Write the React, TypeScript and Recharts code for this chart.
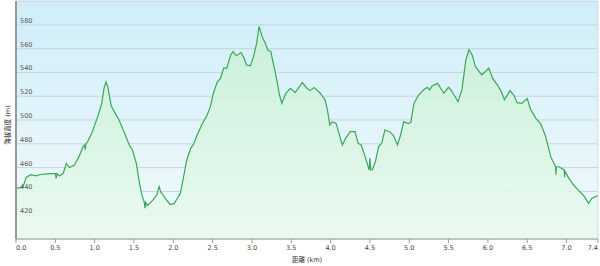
import { AreaChart, Area, XAxis, YAxis, CartesianGrid, ReferenceLine } from 'recharts';

// distance along the route (km) and elevation (m)
const DIST = [
  0, 0.05, 0.09, 0.13, 0.19, 0.25, 0.3, 0.36, 0.44, 0.5, 0.51, 0.52, 0.55, 0.6, 0.64, 0.68, 0.74, 0.8, 0.85, 0.87,
  0.88, 0.89, 0.91, 0.97, 1.04, 1.09, 1.12, 1.145, 1.17, 1.21, 1.25, 1.31, 1.38, 1.44, 1.48, 1.53, 1.57, 1.6, 1.63,
  1.64, 1.65, 1.67, 1.74, 1.79, 1.82, 1.84, 1.86, 1.9, 1.96, 2.01, 2.05, 2.09, 2.13, 2.17, 2.22, 2.26, 2.3, 2.37,
  2.43, 2.47, 2.51, 2.56, 2.6, 2.64, 2.68, 2.73, 2.76, 2.8, 2.86, 2.9, 2.93, 2.98, 3.02, 3.06, 3.09, 3.13, 3.17, 3.2,
  3.24, 3.28, 3.32, 3.35, 3.38, 3.43, 3.49, 3.55, 3.64, 3.7, 3.74, 3.79, 3.87, 3.93, 3.96, 3.99, 4.02, 4.07, 4.1,
  4.15, 4.19, 4.25, 4.31, 4.35, 4.39, 4.44, 4.49, 4.5, 4.51, 4.53, 4.57, 4.61, 4.65, 4.69, 4.75, 4.8, 4.85, 4.89,
  4.93, 4.99, 5.02, 5.06, 5.12, 5.18, 5.23, 5.26, 5.29, 5.36, 5.4, 5.44, 5.5, 5.53, 5.57, 5.62, 5.67, 5.72, 5.76,
  5.8, 5.84, 5.92, 5.97, 6.01, 6.06, 6.12, 6.17, 6.21, 6.24, 6.28, 6.33, 6.37, 6.43, 6.5, 6.54, 6.61, 6.67, 6.73,
  6.8, 6.86, 6.865, 6.87, 6.9, 6.97, 6.975, 6.98, 7.03, 7.09, 7.15, 7.21, 7.23, 7.28, 7.32, 7.38, 7.4,
];
const ELEV = [
  443, 443, 444, 452, 454, 453, 454, 454.5, 455, 455, 451, 455, 453, 455, 463.5, 460, 462, 469, 477.5, 479,
  475, 480, 481.7, 490, 503, 514, 527, 532, 527, 512, 507, 500, 489, 479, 475, 463.5, 447, 437, 431,
  426, 431, 428, 432.6, 437, 444, 439.6, 438, 434, 429, 429.7, 434, 438.3, 452, 466, 476, 480, 487, 497,
  504, 511, 522.5, 532, 535, 543.6, 543.6, 554.7, 557.5, 554, 556.7, 552, 546.3, 545.5, 553.3, 564.6, 578.6, 570, 564.6, 559,
  557.5, 545, 532, 521, 514, 522.5, 526.7, 523, 531.5, 526.7, 524.7, 527.2, 522.5, 516.8, 508.4, 495.8, 498.6, 497.2, 490.2,
  479, 484.6, 490.2, 490.2, 480.4, 479, 469, 458, 468, 458, 458, 465, 477.5, 480.4, 491.6, 490.2, 487, 479, 487.4,
  498.6, 497, 498, 514, 521, 525.3, 527.5, 525.3, 528.6, 530.8, 526.7, 522.5, 527.5, 525.3, 521, 515.4, 525.3, 550.5, 559,
  554.7, 545, 538, 540.8, 543.6, 535, 529.5, 524, 517, 520, 524.7, 521, 514.6, 514, 518, 509.5, 501.4, 497, 487,
  469, 460.7, 454, 460.7, 460.7, 458, 452, 457, 451, 445.3, 441, 437, 435.4, 430, 434, 436, 436,
];

const X_TICKS = [0, 0.5, 1, 1.5, 2, 2.5, 3, 3.5, 4, 4.5, 5, 5.5, 6, 6.5, 7, 7.4];
const Y_TICKS = [400, 420, 440, 460, 480, 500, 520, 540, 560, 580, 600];

const data = DIST.map((d, i) => ({ d, elev: ELEV[i] }));

const FONT = '"DejaVu Sans", "Noto Sans CJK JP", sans-serif';

function XTick(props: any) {
  const { x, y, payload, index } = props;
  const last = index === X_TICKS.length - 1;
  const anchor = index === 0 ? 'start' : last ? 'end' : 'middle';
  return (
    <text x={x} y={y} dy={5} textAnchor={anchor} fontSize={6.5} fill="#444" fontFamily={FONT}>
      {payload.value.toFixed(1)}
    </text>
  );
}

function YTick(props: any) {
  const { x, y, payload } = props;
  if (payload.value === 400 || payload.value === 600) return <g />;
  return (
    <text x={x} y={y} dx={4} dy={-2} textAnchor="start" fontSize={6.5} fill="#555" fontFamily={FONT}>
      {payload.value}
    </text>
  );
}

function YTitle(props: any) {
  const { x, y, height } = props.viewBox;
  const cx = x + 10;
  const cy = y + height / 2 + 5;
  return (
    <text
      x={cx}
      y={cy}
      transform={`rotate(-90, ${cx}, ${cy})`}
      textAnchor="middle"
      fontSize={6.5}
      fill="#222"
      fontFamily={FONT}
    >
      海拔高度 (m)
    </text>
  );
}

export default function App() {
  return (
    <div style={{ width: 600, height: 266, background: '#fff' }}>
      <style>{'body{margin:0}'}</style>
      <AreaChart width={600} height={266} data={data} margin={{ top: 1, right: 2, left: 0, bottom: 0 }}>
        <defs>
          <linearGradient id="bgGrad" x1="0" y1="0" x2="0" y2="1">
            <stop offset="0%" stopColor="#cfedf9" />
            <stop offset="100%" stopColor="#f3fbfc" />
          </linearGradient>
          <linearGradient id="areaGrad" x1="0" y1="0" x2="0" y2="1">
            <stop offset="0%" stopColor="#c8efd6" stopOpacity={0.9} />
            <stop offset="100%" stopColor="#eafaf0" stopOpacity={0.9} />
          </linearGradient>
        </defs>
        <CartesianGrid vertical={false} stroke="#c8d5dc" fill="url(#bgGrad)" fillOpacity={1} />
        <XAxis
          dataKey="d"
          type="number"
          domain={[0, 7.4]}
          ticks={X_TICKS}
          interval={0}
          height={27}
          tickSize={4}
          stroke="#999"
          tick={<XTick />}
          label={{
            value: '距離  (km)',
            position: 'insideBottom',
            offset: 4,
            fontSize: 6.5,
            fill: '#333',
            fontFamily: FONT,
          }}
        />
        <YAxis
          domain={[400, 600]}
          ticks={Y_TICKS}
          interval={0}
          width={16}
          tickLine={false}
          tickSize={0}
          tickMargin={0}
          axisLine={{ stroke: '#999', strokeWidth: 2 }}
          tick={<YTick />}
          label={<YTitle />}
        />
        <ReferenceLine x={7.4} stroke="#d2dde2" />
        <Area
          type="linear"
          dataKey="elev"
          stroke="#3aa856"
          strokeWidth={1.2}
          fill="url(#areaGrad)"
          fillOpacity={1}
          baseValue={400}
          isAnimationActive={false}
          dot={false}
          activeDot={false}
        />
      </AreaChart>
    </div>
  );
}
